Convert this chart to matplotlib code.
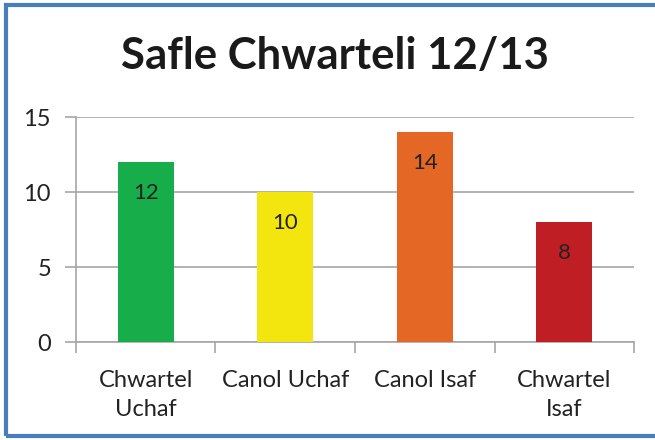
import matplotlib.pyplot as plt
from matplotlib.patches import Rectangle

categories = ["Chwartel\nUchaf", "Canol Uchaf", "Canol Isaf", "Chwartel\nIsaf"]
values = [12, 10, 14, 8]
colors = ["#17ad4b", "#f3e60f", "#e46726", "#bf1e24"]
yticks = [0, 5, 10, 15]

plt.rcParams['font.family'] = ['Lato', 'DejaVu Sans']

fig = plt.figure(figsize=(6.55, 4.4), dpi=100)
ax = fig.add_axes([0.116, 0.222, 0.852, 0.512])

x = range(len(values))
bars = ax.bar(x, values, width=0.4, color=colors, zorder=3)
for b, v in zip(bars, values):
    ax.annotate(str(v), (b.get_x() + b.get_width() / 2, v),
                xytext=(0, -31), textcoords='offset pixels',
                ha='center', va='center', fontsize=16, color='#222222', zorder=4)

ax.set_xlim(-0.5, 3.5)
ax.set_ylim(0, 15)
ax.set_yticks(yticks)
ax.yaxis.grid(True, color='#a6a6a6', linewidth=1.2, zorder=0)
ax.tick_params(axis='y', length=8, color='#a6a6a6', width=1.2, labelsize=17,
               pad=10, labelcolor='#222222')
ax.set_xticks([-0.5, 0.5, 1.5, 2.5, 3.5])
ax.set_xticklabels([])
ax.tick_params(axis='x', length=8, color='#a6a6a6', width=1.2)
ax.set_xticks(list(x), minor=True)
ax.set_xticklabels(categories, minor=True, fontsize=17, color='#222222')
ax.tick_params(axis='x', which='minor', length=0, pad=20)
for lbl in ax.get_xticklabels(minor=True):
    lbl.set_linespacing(1.45)
for s in ['top', 'right']:
    ax.spines[s].set_visible(False)
for s in ['left', 'bottom']:
    ax.spines[s].set_color('#a6a6a6')
    ax.spines[s].set_linewidth(1.2)

fig.text(0.511, 0.873, "Safle Chwarteli 12/13", ha='center', va='center',
         fontsize=31.5, fontweight='bold', color='#1a1a1a')

# blue frame
fig.add_artist(Rectangle((0.0095, 0.008), 1.2, 0.98, transform=fig.transFigure,
                         fill=False, edgecolor='#4a7ebb', linewidth=3))

fig.savefig("out.png", dpi=100)
